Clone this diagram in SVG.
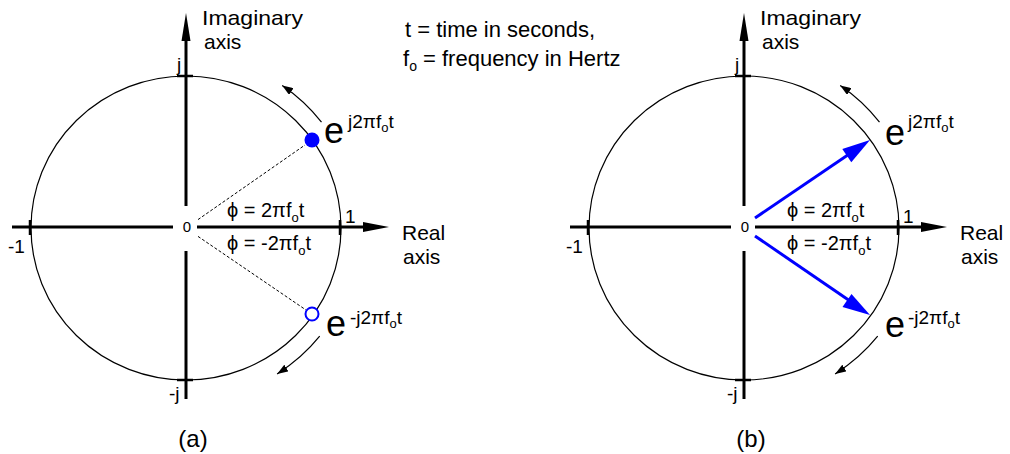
<svg xmlns="http://www.w3.org/2000/svg" width="1010" height="454" viewBox="0 0 1010 454">
<style>
text{font-family:"Liberation Sans",Arial,sans-serif;fill:#000}
.ax{stroke:#000;stroke-width:3;fill:none}
.tk{stroke:#000;stroke-width:2.5;fill:none}
.circ{stroke:#000;stroke-width:1.2;fill:none}
.rot{stroke:#000;stroke-width:1.2;fill:none;marker-end:url(#sm)}
.dot{stroke:#000;stroke-width:1;stroke-dasharray:3,2;fill:none}
.vec{stroke:#0000ff;stroke-width:3;fill:none}
.lab{font-size:21px}
.leg{font-size:22px}
.ph{font-size:20px}
.num{font-size:19px}
.big{font-size:36px}
.sup{font-size:19px}
</style>
<defs>
<marker id="sm" markerUnits="userSpaceOnUse" markerWidth="12" markerHeight="8" refX="11" refY="4" orient="auto">
<path d="M0,0 L11,4 L0,8 z" fill="#000"/>
</marker>
</defs>

<g id="diagram-a">
<g id="axes-a">
<ellipse class="circ" cx="186" cy="228" rx="155" ry="152"/>
<line class="ax" x1="186" y1="38" x2="186" y2="206"/>
<line class="ax" x1="186" y1="251" x2="186" y2="399"/>
<polygon points="186,13 181.5,41 190.5,41" fill="#000"/>
<line class="ax" x1="12" y1="227" x2="173" y2="227"/>
<line class="ax" x1="197" y1="227" x2="366" y2="227"/>
<polygon points="389,227 363,222 363,232" fill="#000"/>
<line class="tk" x1="177" y1="76" x2="193" y2="76"/>
<line class="tk" x1="177" y1="380" x2="193" y2="380"/>
<line class="tk" x1="30" y1="220" x2="30" y2="235"/>
<line class="tk" x1="340" y1="220" x2="340" y2="235"/>
</g>
<g id="labels-a">
<text class="lab" x="202" y="25" textLength="101" lengthAdjust="spacingAndGlyphs">Imaginary</text>
<text class="lab" x="204" y="49">axis</text>
<text class="lab" x="402" y="240">Real</text>
<text class="lab" x="403" y="264">axis</text>
<text class="num" x="177" y="71">j</text>
<text class="num" x="169" y="400">-j</text>
<text class="num" x="8" y="253">-1</text>
<text class="num" x="345" y="223">1</text>
<text x="187" y="232" font-size="15" text-anchor="middle">0</text>
<text class="ph" x="227" y="217">ϕ = 2πf<tspan font-size="13" dy="5">o</tspan><tspan dy="-5">t</tspan></text>
<text class="ph" x="227" y="250">ϕ = -2πf<tspan font-size="13" dy="5">o</tspan><tspan dy="-5">t</tspan></text>
<text x="193" y="447" font-size="24" text-anchor="middle">(a)</text>
</g>
<g id="point-pos-a">
<line class="dot" x1="198" y1="219.6" x2="305" y2="145"/>
<circle cx="312" cy="140" r="7.5" fill="#0000ff"/>
<text class="big" x="324" y="143">e</text>
<text class="sup" x="348" y="128">j2πf<tspan font-size="13" dy="4">o</tspan><tspan dy="-4">t</tspan></text>
</g>
<g id="point-neg-a">
<line class="dot" x1="198" y1="236.4" x2="306" y2="310"/>
<circle cx="312" cy="314" r="6.5" fill="#fff" stroke="#0000ff" stroke-width="2"/>
<text class="big" x="326" y="336">e</text>
<text class="sup" x="350" y="324">-j2πf<tspan font-size="13" dy="4">o</tspan><tspan dy="-4">t</tspan></text>
</g>
</g>

<g id="legend">
<text class="leg" x="405" y="37">t = time in seconds,</text>
<text class="leg" x="403" y="66">f<tspan font-size="14" dy="5">o</tspan><tspan dy="-5"> = frequency in Hertz</tspan></text>
</g>

<g id="diagram-b">
<g id="axes-b">
<ellipse class="circ" cx="744" cy="228" rx="155" ry="152"/>
<line class="ax" x1="744" y1="38" x2="744" y2="206"/>
<line class="ax" x1="744" y1="251" x2="744" y2="399"/>
<polygon points="744,13 739.5,41 748.5,41" fill="#000"/>
<line class="ax" x1="570" y1="227" x2="731" y2="227"/>
<line class="ax" x1="755" y1="227" x2="924" y2="227"/>
<polygon points="947,227 921,222 921,232" fill="#000"/>
<line class="tk" x1="735" y1="76" x2="751" y2="76"/>
<line class="tk" x1="735" y1="380" x2="751" y2="380"/>
<line class="tk" x1="588" y1="220" x2="588" y2="235"/>
<line class="tk" x1="898" y1="220" x2="898" y2="235"/>
</g>
<g id="labels-b">
<text class="lab" x="760" y="25" textLength="101" lengthAdjust="spacingAndGlyphs">Imaginary</text>
<text class="lab" x="762" y="49">axis</text>
<text class="lab" x="960" y="240">Real</text>
<text class="lab" x="961" y="264">axis</text>
<text class="num" x="735" y="71">j</text>
<text class="num" x="727" y="400">-j</text>
<text class="num" x="566" y="253">-1</text>
<text class="num" x="903" y="223">1</text>
<text x="745" y="232" font-size="15" text-anchor="middle">0</text>
<text class="ph" x="787" y="217">ϕ = 2πf<tspan font-size="13" dy="5">o</tspan><tspan dy="-5">t</tspan></text>
<text class="ph" x="787" y="250">ϕ = -2πf<tspan font-size="13" dy="5">o</tspan><tspan dy="-5">t</tspan></text>
<text x="751" y="447" font-size="24" text-anchor="middle">(b)</text>
</g>
<g id="vector-pos-b">
<text class="big" x="885" y="145">e</text>
<text class="sup" x="908" y="128">j2πf<tspan font-size="13" dy="4">o</tspan><tspan dy="-4">t</tspan></text>
</g>
<g id="vector-neg-b">
<text class="big" x="885" y="337">e</text>
<text class="sup" x="908" y="324">-j2πf<tspan font-size="13" dy="4">o</tspan><tspan dy="-4">t</tspan></text>
</g>
</g>

<g id="connectors">
<path class="rot" d="M321.5,122.1 A172,172 0 0,0 282.2,85.4"/>
<path class="rot" d="M319.7,336.2 A172,172 0 0,1 277.1,373.9"/>
<path class="rot" d="M879.5,122.1 A172,172 0 0,0 840.2,85.4"/>
<path class="rot" d="M877.7,336.2 A172,172 0 0,1 835.1,373.9"/>
<line class="vec" x1="755" y1="218" x2="850" y2="153.5"/>
<polygon points="870,140 851.3,162.2 842.3,149" fill="#0000ff"/>
<line class="vec" x1="755" y1="236" x2="850" y2="301"/>
<polygon points="870,315 842.5,307 851.5,294" fill="#0000ff"/>
</g>
</svg>
